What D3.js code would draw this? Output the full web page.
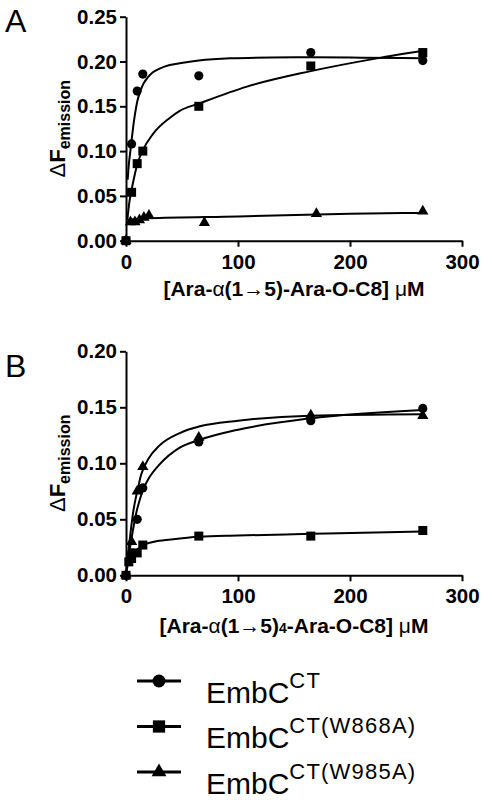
<!DOCTYPE html>
<meta charset="utf-8">

<!-- Load d3.js -->
<script src="https://d3js.org/d3.v7.min.js"></script>

<style>
  body { margin: 0; background: #fff; }
  text { font-family: "Liberation Sans", Arial, sans-serif; fill: #000; }
</style>

<!-- Create a div where the graph will take place -->
<div id="my_dataviz"></div>

<script>

// ---- data: [concentration in uM, delta F emission] ----
// panel A, Ara-a(1->5)-Ara-O-C8
var aCircle   = [[0, 0], [5, 0.108], [10, 0.167], [15, 0.186], [65, 0.184], [165, 0.210], [265, 0.201]];
var aSquare   = [[0, 0], [5, 0.054], [10, 0.086], [15, 0.100], [65, 0.150], [165, 0.195], [265, 0.210]];
var aTriangle = [[0, 0], [4, 0.021], [8, 0.021], [12, 0.023], [16, 0.026], [20.5, 0.028],
                 [70, 0.020], [170, 0.030], [265, 0.033]];

// fitted curves
var aCircleFit   = [[1.5, 0.068], [2.5, 0.085], [3.6, 0.097], [5, 0.112], [6.5, 0.128], [8, 0.141],
                    [10, 0.155], [12.5, 0.166], [15.5, 0.175], [20, 0.183], [24, 0.188], [30, 0.192],
                    [39, 0.196], [48, 0.198], [65, 0.201], [93, 0.2035], [130, 0.2045], [165, 0.2047],
                    [210, 0.2043], [265, 0.2035]];
var aSquareFit   = [[1.2, 0.023], [3, 0.043], [5, 0.057], [7.5, 0.072], [10, 0.085], [15, 0.101],
                    [24, 0.119], [39, 0.137], [48, 0.145], [65, 0.153], [108, 0.172], [164, 0.189],
                    [224, 0.2035], [265, 0.212]];
var aTriangleFit = [[1.2, 0.019], [3, 0.023], [6, 0.024], [20, 0.025], [100, 0.027], [200, 0.030],
                    [265, 0.031]];

// panel B, Ara-a(1->5)4-Ara-O-C8
var bCircle   = [[0, 0], [5, 0.020], [10, 0.050], [15, 0.078], [65, 0.119], [165, 0.138], [265, 0.149]];
var bSquare   = [[0, 0], [2.5, 0.012], [5, 0.015], [10, 0.020], [15, 0.027], [65, 0.035], [165, 0.035],
                 [265, 0.040]];
var bTriangle = [[0, 0], [5, 0.030], [10, 0.075], [15, 0.097], [65, 0.123], [165, 0.143], [265, 0.1425]];

var bCircleFit   = [[0.5, 0.005], [2, 0.015], [4, 0.027], [6.5, 0.042], [9, 0.055], [11, 0.063],
                    [15.5, 0.077], [20, 0.086], [30, 0.099], [48, 0.114], [66, 0.121], [100, 0.130],
                    [164, 0.140], [265, 0.1476]];
var bSquareFit   = [[0.5, 0.004], [2, 0.011], [4, 0.016], [6, 0.019], [10, 0.023], [15.5, 0.027],
                    [25, 0.030], [40, 0.032], [65, 0.0345], [100, 0.0355], [165, 0.037], [265, 0.0392]];
var bTriangleFit = [[0.5, 0.005], [2, 0.020], [3.6, 0.034], [5, 0.046], [6.5, 0.057], [8.5, 0.068],
                    [11, 0.079], [13, 0.088], [15.5, 0.095], [20, 0.104], [30, 0.116], [48, 0.127],
                    [66, 0.133], [100, 0.138], [164, 0.1425], [265, 0.1437]];

var xTicks  = [0, 100, 200, 300];
var aYTicks = [0, 0.05, 0.10, 0.15, 0.20, 0.25];
var bYTicks = [0, 0.05, 0.10, 0.15, 0.20];

var legendSup = ["CT", "CT(W868A)", "CT(W985A)"];

// ---- drawing ----
var svg = d3.select("#my_dataviz")
  .append("svg")
    .attr("width", 484)
    .attr("height", 800);

var x = d3.scaleLinear().domain([0, 300]).range([126, 462]);
var shapes = [d3.symbolCircle, d3.symbolSquare, d3.symbolTriangle];
var sizes = [66, 81, 55];

function drawPanel(p) {
  var y = d3.scaleLinear().domain([0, p.yMax]).range([p.bottom, p.top]);

  var line = d3.line()
    .x(function(d) { return x(d[0]); })
    .y(function(d) { return y(d[1]); })
    .curve(d3.curveMonotoneX);

  // x axis
  var gx = svg.append("g")
    .attr("transform", "translate(0," + y(0) + ")")
    .call(d3.axisBottom(x).tickValues(xTicks).tickSize(6).tickSizeOuter(0)
      .tickPadding(7.5).tickFormat(d3.format("d")));

  // y axis
  var gy = svg.append("g")
    .attr("transform", "translate(" + x(0) + ",0)")
    .call(d3.axisLeft(y).tickValues(p.yTicks).tickSize(6).tickSizeOuter(0)
      .tickPadding(3).tickFormat(d3.format(".2f")));

  [gx, gy].forEach(function(g) {
    g.select(".domain").attr("stroke", "#000").attr("stroke-width", 2);
    g.selectAll(".tick line").attr("stroke", "#000").attr("stroke-width", 2);
    g.selectAll("text")
      .attr("font-family", "Liberation Sans, Arial, sans-serif")
      .style("font-size", "20.5px")
      .style("font-weight", "bold");
  });

  // fitted curves
  p.fits.forEach(function(f) {
    svg.append("path")
      .datum(f)
      .attr("fill", "none")
      .attr("stroke", "#000")
      .attr("stroke-width", 2)
      .attr("d", line);
  });

  // points
  p.points.forEach(function(pts, i) {
    svg.append("g")
      .selectAll("path")
      .data(pts)
      .enter()
      .append("path")
        .attr("transform", function(d) { return "translate(" + x(d[0]) + "," + y(d[1]) + ")"; })
        .attr("d", d3.symbol().type(shapes[i]).size(sizes[i]))
        .attr("fill", "#000");
  });

  // panel letter
  svg.append("text")
    .attr("x", 5)
    .attr("y", p.letterY)
    .style("font-size", "32px")
    .text(p.letter);

  // y title
  var yt = svg.append("text")
    .attr("transform", "translate(65," + ((p.top + p.bottom) / 2) + ") rotate(-90)")
    .attr("text-anchor", "middle");
  yt.append("tspan").style("font-size", "22px").text("\u0394");
  yt.append("tspan").style("font-size", "22px").style("font-weight", "bold").text("F");
  yt.append("tspan").attr("dy", 5).style("font-size", "16px").style("font-weight", "bold").text("emission");

  // x title
  var xt = svg.append("text")
    .attr("x", (x(0) + x(300)) / 2)
    .attr("y", p.titleY)
    .attr("text-anchor", "middle")
    .style("font-size", "21px")
    .style("font-weight", "bold");
  p.title.forEach(function(t) {
    var s = xt.append("tspan").text(t.s);
    if (t.normal) s.style("font-weight", "normal");
    if (t.small) s.style("font-size", "14px");
  });
}

drawPanel({
  top: 16.7, bottom: 240.7, yMax: 0.25, yTicks: aYTicks,
  points: [aCircle, aSquare, aTriangle],
  fits: [aCircleFit, aSquareFit, aTriangleFit],
  letter: "A", letterY: 31.7, titleY: 296,
  title: [{s: "[Ara-"}, {s: "\u03b1", normal: true}, {s: "(1"}, {s: "\u2192", normal: true},
          {s: "5)-Ara-O-C8] "}, {s: "\u03bc", normal: true}, {s: "M"}]
});

drawPanel({
  top: 351.3, bottom: 575.3, yMax: 0.20, yTicks: bYTicks,
  points: [bCircle, bSquare, bTriangle],
  fits: [bCircleFit, bSquareFit, bTriangleFit],
  letter: "B", letterY: 377, titleY: 633,
  title: [{s: "[Ara-"}, {s: "\u03b1", normal: true}, {s: "(1"}, {s: "\u2192", normal: true},
          {s: "5)"}, {s: "4", small: true}, {s: "-Ara-O-C8] "}, {s: "\u03bc", normal: true}, {s: "M"}]
});

// legend
var legSizes = [133, 150, 95];
legendSup.forEach(function(sup, i) {
  var ly = 681 + i * 45.5;
  var g = svg.append("g");
  g.append("line")
    .attr("x1", 137).attr("x2", 181)
    .attr("y1", ly).attr("y2", ly)
    .attr("stroke", "#000").attr("stroke-width", 3);
  g.append("path")
    .attr("transform", "translate(159," + ly + ")")
    .attr("d", d3.symbol().type(shapes[i]).size(legSizes[i]))
    .attr("fill", "#000");
  var t = g.append("text")
    .attr("x", 206)
    .attr("y", ly + 21.5)
    .style("font-size", "30px");
  t.append("tspan").text("EmbC");
  t.append("tspan")
    .attr("dy", -15)
    .style("font-size", "22px")
    .style("letter-spacing", "1.2px")
    .text(sup);
});

</script>
